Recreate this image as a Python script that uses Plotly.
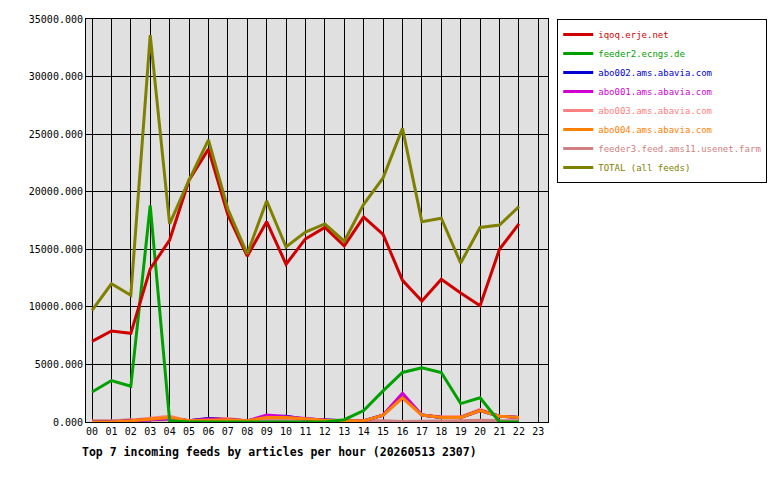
import plotly.graph_objects as go

hours = [f"{h:02d}" for h in range(24)]
x = list(range(23))
iqoq = [7000,7900,7700,13300,15800,21000,23700,18000,14400,17400,13700,15900,16900,15300,17800,16300,12300,10500,12400,11200,10100,15000,17200]
feeder2 = [2600,3600,3100,18800,100,0,0,0,0,0,0,0,0,200,1000,2700,4300,4700,4300,1600,2100,0,0]
abo002 = [0,0,100,200,300,100,300,200,100,500,500,250,150,100,100,600,2300,600,400,400,1000,500,400]
abo001 = [0,0,100,200,300,100,250,200,100,600,450,250,150,100,100,600,2500,600,400,400,1000,500,400]
abo003 = [0,0,150,300,500,100,300,300,100,400,400,250,150,100,100,600,2100,600,450,450,1100,500,400]
abo004 = [0,0,100,250,400,100,150,200,100,400,400,250,150,100,100,600,2100,600,400,400,1000,500,400]
feeder3 = [100,100,200,150,200,100,150,150,100,150,150,150,150,150,150,100,50,50,50,100,150,100,100]
total = [9700,12000,11000,33600,17200,21000,24500,18500,14600,19200,15200,16500,17200,15700,18900,21200,25500,17400,17700,13800,16900,17100,18700]

series = [
    ("feeder3.feed.ams11.usenet.farm", feeder3, "#d08080"),
    ("abo003.ams.abavia.com", abo003, "#ff8080"),
    ("abo002.ams.abavia.com", abo002, "#0000d0"),
    ("abo001.ams.abavia.com", abo001, "#d000d0"),
    ("abo004.ams.abavia.com", abo004, "#ff8000"),
    ("feeder2.ecngs.de", feeder2, "#00a000"),
    ("iqoq.erje.net", iqoq, "#d00000"),
    ("TOTAL (all feeds)", total, "#808000"),
]
order = ["iqoq.erje.net","feeder2.ecngs.de","abo002.ams.abavia.com","abo001.ams.abavia.com",
         "abo003.ams.abavia.com","abo004.ams.abavia.com","feeder3.feed.ams11.usenet.farm","TOTAL (all feeds)"]

fig = go.Figure()
for name, vals, col in series:
    fig.add_trace(go.Scatter(x=x, y=vals, name=f"<span style='color:{col}'>{name}</span>", mode="lines",
                             line=dict(color=col, width=3),
                             legendrank=order.index(name)+1))

font = "DejaVu Sans Mono"
fig.update_layout(
    width=764, height=464, margin=dict(l=78, r=224, t=11, b=50, autoexpand=False),
    paper_bgcolor="white", plot_bgcolor="#e0e0e0",
    font=dict(family=font, size=10, color="black"),
    showlegend=True,
    legend=dict(x=1.02, y=1.0, xanchor="left", yanchor="top",
                bordercolor="black", borderwidth=1, bgcolor="white",
                font=dict(family=font, size=9), itemwidth=30, tracegroupgap=0),
    xaxis=dict(range=[-0.31, 23.5], tickmode="array", tickvals=list(range(24)), ticktext=hours,
               showgrid=True, gridcolor="black", gridwidth=1, zeroline=False,
               showline=True, linecolor="black", mirror=True, ticks="", fixedrange=True),
    yaxis=dict(range=[0, 35000], tickmode="array", tickvals=list(range(0, 35001, 5000)),
               ticktext=[f"{v}.000" for v in range(0, 35001, 5000)],
               showgrid=True, gridcolor="black", gridwidth=1, zeroline=False,
               showline=True, linecolor="black", mirror=True, ticks=""),
    annotations=[dict(text="<b>Top 7 incoming feeds by articles per hour (20260513 2307)</b>",
                      xref="paper", yref="paper", x=-0.012, y=-0.052, xanchor="left", yanchor="top",
                      showarrow=False, font=dict(family=font, size=11.5))],
)
fig.write_html("out.html")
